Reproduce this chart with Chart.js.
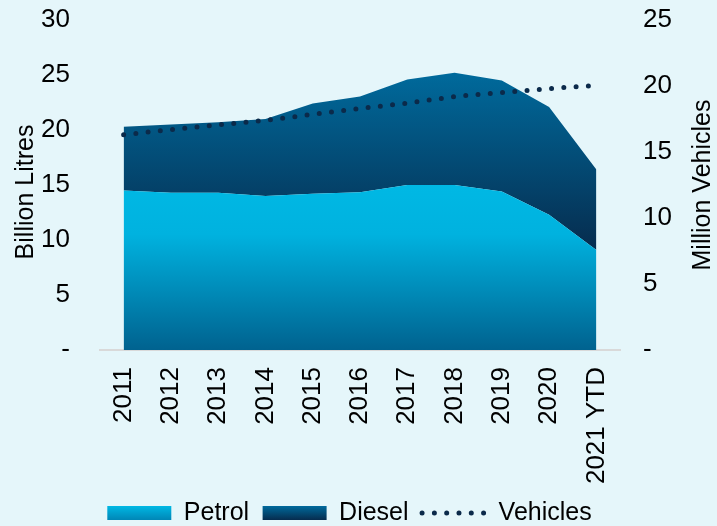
<!DOCTYPE html>
<html>
<head>
<meta charset="utf-8">
<script src="https://cdn.jsdelivr.net/npm/chart.js@4"></script>
<style>
  html, body { margin: 0; padding: 0; background: #E5F6FA; }
  #wrap { width: 717px; height: 526px; }
</style>
</head>
<body>
<div id="wrap"><canvas id="myChart"></canvas></div>
<script>
// Data
var years = ['2011', '2012', '2013', '2014', '2015', '2016', '2017', '2018', '2019', '2020', '2021 YTD'];
var petrol = [14.5, 14.3, 14.3, 14.0, 14.2, 14.35, 15.0, 15.0, 14.4, 12.3, 9.1]; // billion litres
var diesel = [5.8, 6.2, 6.4, 7.0, 8.2, 8.7, 9.6, 10.2, 10.1, 9.8, 7.3];       // billion litres
var vehicles = [16.3, 16.7, 17.05, 17.4, 17.85, 18.3, 18.7, 19.2, 19.5, 19.8, 20.05]; // million

var FONT = '"Liberation Sans", Arial, sans-serif';
Chart.defaults.font.family = FONT;
Chart.defaults.font.size = 25;
Chart.defaults.color = '#000000';

var LEGEND_Y = 513;    // vertical centre of the legend row
var LEGEND_SHIFT = -9; // legend row sits a little left of centre

// vertical gradient between two values on the left axis
function areaGradient(chart, fromVal, toVal, stops) {
    var y = chart.scales.y;
    var g = chart.ctx.createLinearGradient(0, y.getPixelForValue(fromVal), 0, y.getPixelForValue(toVal));
    stops.forEach(function (s) { g.addColorStop(s[0], s[1]); });
    return g;
}

var petrolStops = [[0, '#00B8E4'], [0.3, '#00B2DF'], [1, '#00628F']];
var dieselStops = [[0, '#006A9C'], [1, '#062C4E']];

function tickLabel(v) { return v === 0 ? '-' : v; }

// don't let tick labels push the plot area around
function noPad(s) { s.paddingTop = 0; s.paddingBottom = 0; s.paddingLeft = 0; s.paddingRight = 0; }

function axisTitle(ctx, text, x, y) {
    ctx.save();
    ctx.translate(x, y);
    ctx.rotate(-Math.PI / 2);
    ctx.font = '25px ' + FONT;
    ctx.fillStyle = '#000000';
    ctx.textAlign = 'center';
    ctx.textBaseline = 'middle';
    ctx.fillText(text, 0, 0);
    ctx.restore();
}

// legend row placement + small gradients, both axis titles read bottom-to-top
var extras = {
    id: 'extras',
    beforeDraw: function (chart) {
        var lg = chart.legend;
        if (!lg || !lg.legendHitBoxes) return;
        var pad = lg.options.labels.padding;
        lg.top = LEGEND_Y - pad - 12.5;
        lg.left = LEGEND_SHIFT;
        lg.right = chart.width + LEGEND_SHIFT;
        var ctx = chart.ctx;
        lg.legendItems.forEach(function (item) {
            if (item.datasetIndex === 2) return;
            var g = ctx.createLinearGradient(0, LEGEND_Y - 7, 0, LEGEND_Y + 7);
            if (item.datasetIndex === 0) {
                g.addColorStop(0, '#00B8E4'); g.addColorStop(1, '#0086B6');
            } else {
                g.addColorStop(0, '#006A9C'); g.addColorStop(1, '#062C4E');
            }
            item.fillStyle = g;
        });
    },
    afterDraw: function (chart) {
        var a = chart.chartArea;
        axisTitle(chart.ctx, 'Billion Litres', 26, 192);
        axisTitle(chart.ctx, 'Million Vehicles', 703, (a.top + a.bottom) / 2);
    }
};

var ctx = document.getElementById('myChart').getContext('2d');
var myChart = new Chart(ctx, {
    type: 'line',
    data: {
        labels: years,
        datasets: [{
            label: 'Petrol',
            data: petrol,
            yAxisID: 'y',
            fill: 'origin',
            borderColor: 'transparent',
            borderWidth: 0,
            pointRadius: 0,
            backgroundColor: function (c) {
                if (!c.chart.chartArea) return '#00B2DF';
                return areaGradient(c.chart, Math.max.apply(null, petrol), 0, petrolStops);
            }
        }, {
            label: 'Diesel',
            data: diesel,
            yAxisID: 'y',
            fill: '-1',
            borderColor: 'transparent',
            borderWidth: 0,
            pointRadius: 0,
            backgroundColor: function (c) {
                if (!c.chart.chartArea) return '#005A88';
                var tops = petrol.map(function (p, i) { return p + diesel[i]; });
                return areaGradient(c.chart, Math.max.apply(null, tops), Math.min.apply(null, petrol), dieselStops);
            }
        }, {
            label: 'Vehicles',
            data: vehicles,
            yAxisID: 'y2',
            fill: false,
            borderColor: '#0B2A4A',
            borderWidth: 5,
            borderDash: [0, 12.3],
            borderCapStyle: 'round',
            pointRadius: 0,
            tension: 0
        }]
    },
    options: {
        responsive: true,
        maintainAspectRatio: false,
        animation: false,
        layout: { padding: { top: 20, bottom: 0, left: 0, right: 0 } },
        plugins: {
            filler: { drawTime: 'beforeDatasetsDraw' },
            tooltip: { enabled: false },
            legend: {
                position: 'bottom',
                maxHeight: 36,
                labels: {
                    usePointStyle: true,
                    pointStyleWidth: 64,
                    boxHeight: 14,
                    padding: 13.5,
                    color: '#000000',
                    generateLabels: function () {
                        return [
                            { text: 'Petrol', fillStyle: '#00B2DF', strokeStyle: 'transparent', lineWidth: 0, pointStyle: 'rect', datasetIndex: 0, hidden: false },
                            { text: 'Diesel', fillStyle: '#005A88', strokeStyle: 'transparent', lineWidth: 0, pointStyle: 'rect', datasetIndex: 1, hidden: false },
                            { text: 'Vehicles', fillStyle: 'transparent', strokeStyle: '#0B2A4A', lineWidth: 5, lineDash: [0, 12.3], lineCap: 'round', pointStyle: 'line', datasetIndex: 2, hidden: false }
                        ];
                    }
                }
            }
        },
        scales: {
            x: {
                offset: true,
                grid: { display: false, drawTicks: false },
                border: { display: true, color: '#D9D9D9', width: 2 },
                ticks: { minRotation: 90, maxRotation: 90, padding: 17, autoSkip: false, font: { size: 26 } },
                afterFit: function (s) { s.height = 140; noPad(s); }
            },
            y: {
                stacked: true,
                position: 'left',
                min: 0,
                max: 30,
                grid: { display: false, drawTicks: false },
                border: { display: false },
                ticks: { stepSize: 5, padding: 30, callback: tickLabel, font: { size: 26 } },
                afterFit: function (s) { s.width = 100; noPad(s); }
            },
            y2: {
                position: 'right',
                min: 0,
                max: 25,
                grid: { display: false, drawTicks: false },
                border: { display: false },
                ticks: { stepSize: 5, padding: 23, callback: tickLabel, font: { size: 26 } },
                afterFit: function (s) { s.width = 97; noPad(s); }
            }
        }
    },
    plugins: [extras]
});
</script>
</body>
</html>
